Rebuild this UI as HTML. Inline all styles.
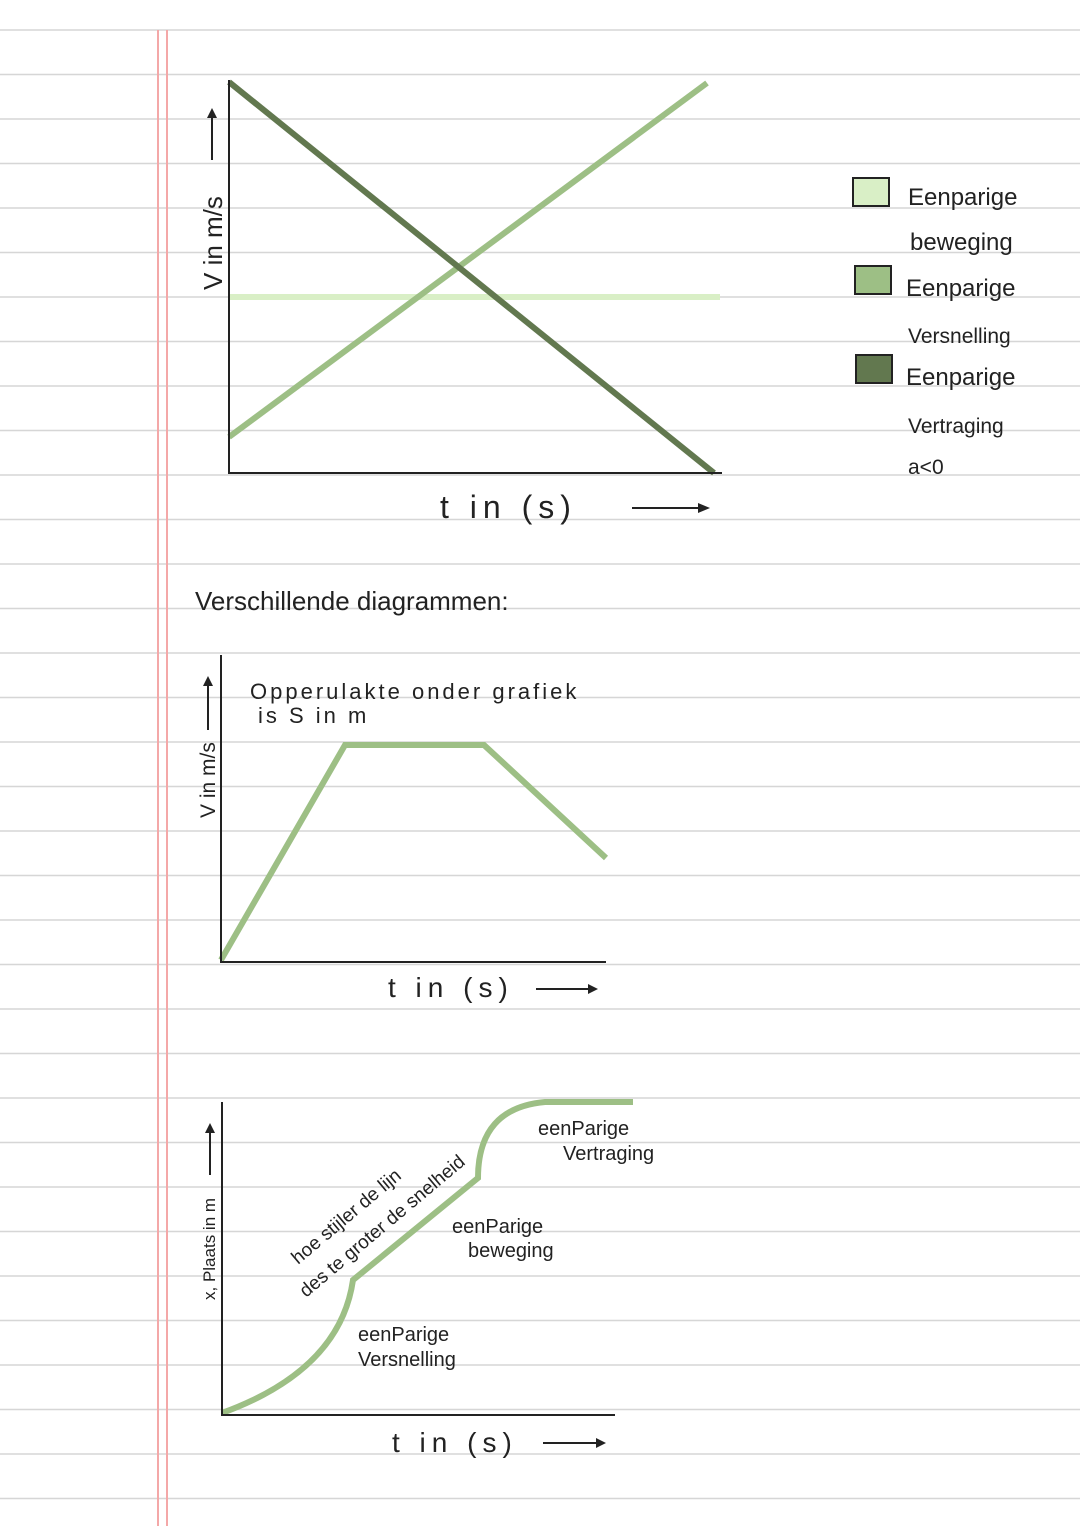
<!DOCTYPE html>
<html><head><style>body{margin:0;background:#fff}svg{display:block}</style></head><body>
<svg width="1080" height="1526" viewBox="0 0 1080 1526" xmlns="http://www.w3.org/2000/svg" font-family="'Liberation Sans', sans-serif">
<rect width="1080" height="1526" fill="#fff"/>
<g stroke="#d6d6d6" stroke-width="1.5" id="lines"></g>
<script>
var g=document.getElementById('lines');for(var i=0;i<34;i++){var y=30+i*44.5;var l=document.createElementNS('http://www.w3.org/2000/svg','line');l.setAttribute('x1',0);l.setAttribute('x2',1080);l.setAttribute('y1',y);l.setAttribute('y2',y);g.appendChild(l);}
</script>
<line x1="158" y1="30" x2="158" y2="1526" stroke="#f4a8a8" stroke-width="2"/>
<line x1="167" y1="30" x2="167" y2="1526" stroke="#f4a8a8" stroke-width="2"/>

<!-- Chart 1 -->
<line x1="229" y1="297" x2="720" y2="297" stroke="#d9efc6" stroke-width="6"/>
<line x1="229" y1="437" x2="707" y2="83" stroke="#9dbf85" stroke-width="6"/>
<line x1="229" y1="82" x2="714" y2="473" stroke="#62784f" stroke-width="6"/>
<polyline points="229,80 229,473 722,473" fill="none" stroke="#222" stroke-width="2"/>
<line x1="212" y1="160" x2="212" y2="115" stroke="#222" stroke-width="2"/><polygon points="212,108 207,118 217,118" fill="#222"/>
<text transform="translate(222,290) rotate(-90)" font-size="26" fill="#222">V in m/s</text>
<text x="440" y="518" font-size="32" fill="#222" letter-spacing="6">t in (s)</text>
<line x1="632" y1="508" x2="700" y2="508" stroke="#222" stroke-width="2"/><polygon points="710,508 698,503 698,513" fill="#222"/>

<!-- Legend -->
<rect x="853" y="178" width="36" height="28" fill="#d9efc6" stroke="#222" stroke-width="2"/>
<rect x="855" y="266" width="36" height="28" fill="#9dbf85" stroke="#222" stroke-width="2"/>
<rect x="856" y="355" width="36" height="28" fill="#62784f" stroke="#222" stroke-width="2"/>
<g font-size="24" fill="#222">
<text x="908" y="205">Eenparige</text>
<text x="910" y="250">beweging</text>
<text x="906" y="296">Eenparige</text>
<text x="908" y="343" font-size="21">Versnelling</text>
<text x="906" y="385">Eenparige</text>
<text x="908" y="433" font-size="21">Vertraging</text>
<text x="908" y="474" font-size="21">a&lt;0</text>
</g>

<text x="195" y="610" font-size="26" fill="#222">Verschillende diagrammen:</text>

<!-- Chart 2 -->
<polyline points="221,960 345,745 484,745 606,858" fill="none" stroke="#9dbf85" stroke-width="6"/>
<polyline points="221,655 221,962 606,962" fill="none" stroke="#222" stroke-width="2"/>
<line x1="208" y1="730" x2="208" y2="683" stroke="#222" stroke-width="2"/><polygon points="208,676 203,686 213,686" fill="#222"/>
<text transform="translate(215,818) rotate(-90)" font-size="21" fill="#222">V in m/s</text>
<text x="250" y="699" font-size="22" fill="#222" letter-spacing="3">Opperulakte onder grafiek</text>
<text x="258" y="723" font-size="22" fill="#222" letter-spacing="3">is S in m</text>
<text x="388" y="997" font-size="28" fill="#222" letter-spacing="6">t in (s)</text>
<line x1="536" y1="989" x2="590" y2="989" stroke="#222" stroke-width="2"/><polygon points="598,989 588,984 588,994" fill="#222"/>

<!-- Chart 3 -->
<path d="M222,1413 Q340,1370 353,1280 L478,1178 Q478,1108 545,1102 L633,1102" fill="none" stroke="#9dbf85" stroke-width="6"/>
<polyline points="222,1102 222,1415 615,1415" fill="none" stroke="#222" stroke-width="2"/>
<line x1="210" y1="1175" x2="210" y2="1130" stroke="#222" stroke-width="2"/><polygon points="210,1123 205,1133 215,1133" fill="#222"/>
<text transform="translate(215,1300) rotate(-90)" font-size="17" fill="#222">x, Plaats in m</text>
<text transform="translate(298,1265) rotate(-40)" font-size="19" fill="#222">hoe stijler de lijn</text>
<text transform="translate(306,1298) rotate(-40)" font-size="19" fill="#222">des te groter de snelheid</text>
<g font-size="20" fill="#222">
<text x="538" y="1135">eenParige</text>
<text x="563" y="1160">Vertraging</text>
<text x="452" y="1233">eenParige</text>
<text x="468" y="1257">beweging</text>
<text x="358" y="1341">eenParige</text>
<text x="358" y="1366">Versnelling</text>
</g>
<text x="392" y="1452" font-size="28" fill="#222" letter-spacing="6">t in (s)</text>
<line x1="543" y1="1443" x2="598" y2="1443" stroke="#222" stroke-width="2"/><polygon points="606,1443 596,1438 596,1448" fill="#222"/>
</svg>
</body></html>
